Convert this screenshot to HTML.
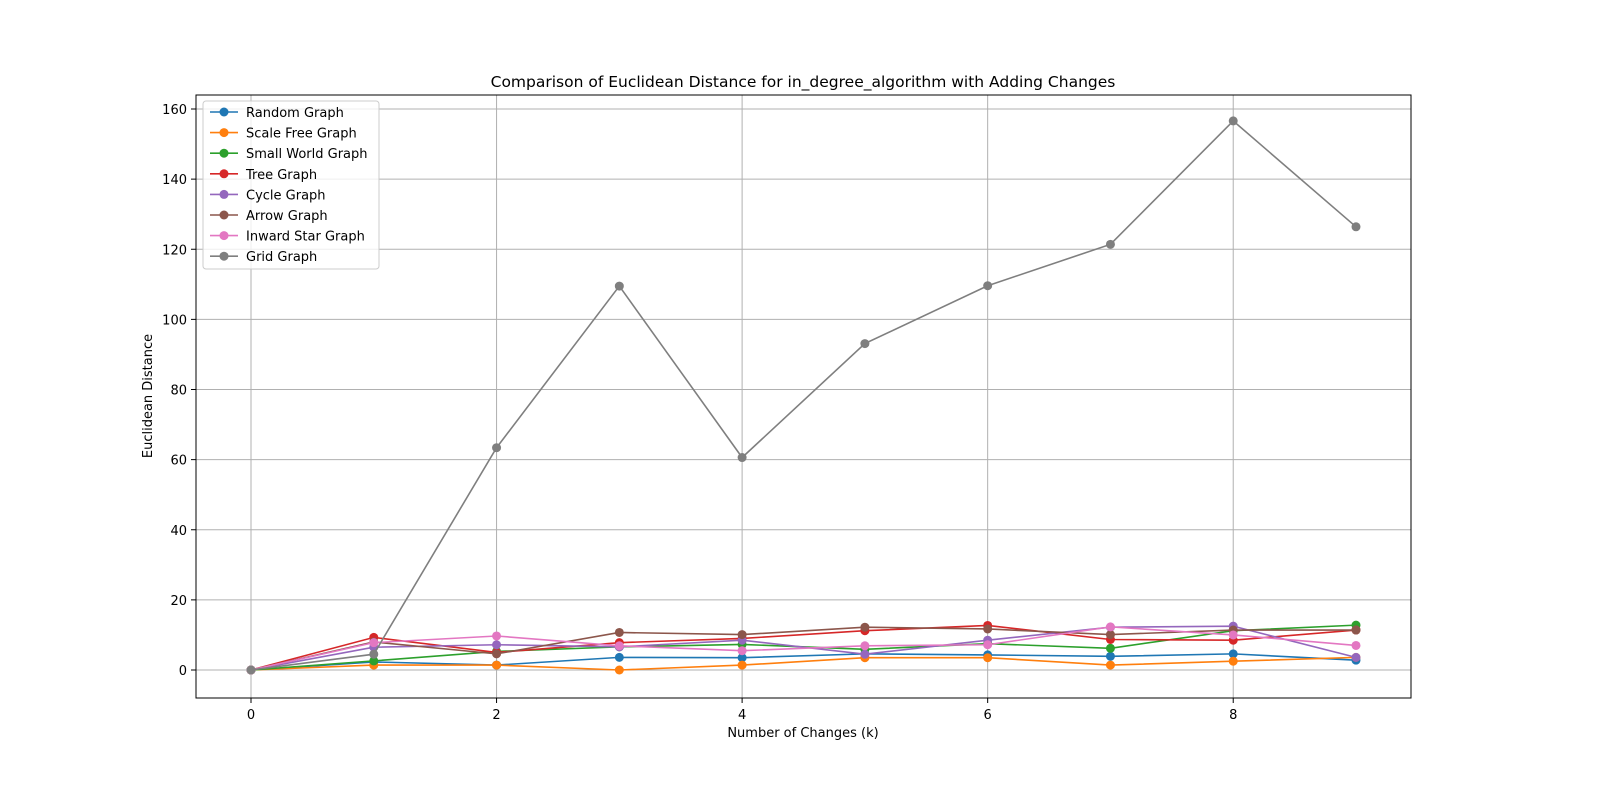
<!DOCTYPE html>
<html><head><meta charset="utf-8"><style>body{margin:0;background:#fff}svg{display:block;font-family:"DejaVu Sans","Liberation Sans",sans-serif}</style></head>
<body>
<svg id="chart" width="1600" height="800" xmlns="http://www.w3.org/2000/svg"></svg>
<script>
const xs=[0,1,2,3,4,5,6,7,8,9];
const seriesNames=["Random Graph","Scale Free Graph","Small World Graph","Tree Graph","Cycle Graph","Arrow Graph","Inward Star Graph","Grid Graph"];
const colors=["#1f77b4","#ff7f0e","#2ca02c","#d62728","#9467bd","#8c564b","#e377c2","#7f7f7f"];
const randomVals=[0,2.3,1.4,3.6,3.5,4.6,4.3,3.9,4.6,2.8];
const scaleFreeVals=[0,1.4,1.4,0,1.4,3.5,3.5,1.4,2.5,3.6];
const smallWorldVals=[0,2.6,5.3,6.6,7.3,5.9,7.5,6.2,11.2,12.8];
const treeVals=[0,9.3,5,7.8,9,11.2,12.7,8.7,8.5,11.4];
const cycleVals=[0,6.5,7.2,6.6,8.5,4.5,8.5,12.2,12.5,3.6];
const arrowVals=[0,8,4.6,10.7,10.1,12.2,11.7,10.1,11.4,11.4];
const inwardVals=[0,7.8,9.7,6.9,5.5,6.9,7.2,12.3,10,7];
const gridVals=[0,4.5,63.4,109.5,60.6,93.1,109.6,121.4,156.6,126.4];
const xTicks=[0,2,4,6,8];
const yTicks=[0,20,40,60,80,100,120,140,160];
const allSeries=[randomVals,scaleFreeVals,smallWorldVals,treeVals,cycleVals,arrowVals,inwardVals,gridVals];
const L=196,R=1411,T=95,B=698;
const X=v=>251+(v-0)*(1356-251)/9;
const Y=v=>670-v*(670-109)/160;
const svg=document.getElementById('chart');
const NS="http://www.w3.org/2000/svg";
function mk(tag,attrs,parent){const e=document.createElementNS(NS,tag);for(const k in attrs)e.setAttribute(k,attrs[k]);(parent||svg).appendChild(e);return e;}
const grid=mk('g',{});


xTicks.forEach(t=>{mk('line',{x1:X(t),x2:X(t),y1:T,y2:B,stroke:'#b0b0b0','stroke-width':1},grid);
 mk('line',{x1:X(t),x2:X(t),y1:B,y2:B+5,stroke:'#000'},grid);
 const tx=mk('text',{x:X(t),y:B+21,'text-anchor':'middle','font-size':13});tx.textContent=t;
 
 });
yTicks.forEach(t=>{mk('line',{x1:L,x2:R,y1:Y(t),y2:Y(t),stroke:'#b0b0b0','stroke-width':1},grid);
 mk('line',{x1:L-5,x2:L,y1:Y(t),y2:Y(t),stroke:'#000'},grid);
 const tx=mk('text',{x:L-9,y:Y(t)+5,'text-anchor':'end','font-size':13});tx.textContent=t;
 
 });
allSeries.forEach((vals,i)=>{
 const g=mk('g',{});
 
 
 mk('polyline',{points:vals.map((v,j)=>X(xs[j])+','+Y(v)).join(' '),fill:'none',stroke:colors[i],'stroke-width':1.6},g);
 vals.forEach((v,j)=>{const c=mk('circle',{cx:X(xs[j]),cy:Y(v),r:4.5,fill:colors[i]},g);
  
  });
});
const frame=mk('rect',{x:L,y:T,width:R-L,height:B-T,fill:'none',stroke:'#000','stroke-width':1});


const title=mk('text',{x:803,y:87,'text-anchor':'middle','font-size':15.5});title.textContent='Comparison of Euclidean Distance for in_degree_algorithm with Adding Changes';


const xt=mk('text',{x:803,y:737,'text-anchor':'middle','font-size':13});xt.textContent='Number of Changes (k)';


const yt=mk('text',{x:0,y:0,'text-anchor':'middle','font-size':13,transform:'translate(152,396) rotate(-90)'});yt.textContent='Euclidean Distance';


const lg=mk('g',{});


mk('rect',{x:203,y:101,width:176,height:168,rx:3,fill:'#fff','fill-opacity':0.8,stroke:'#ccc'},lg);
seriesNames.forEach((n,i)=>{const y=112+i*20.6;
 const e=mk('g',{},lg);
 
 
 mk('line',{x1:210,x2:238,y1:y,y2:y,stroke:colors[i],'stroke-width':1.6},e);
 mk('circle',{cx:224,cy:y,r:4.5,fill:colors[i]},e);
 const t=mk('text',{x:246,y:y+5,'font-size':13},e);t.textContent=n;});
</script>
</body></html>
